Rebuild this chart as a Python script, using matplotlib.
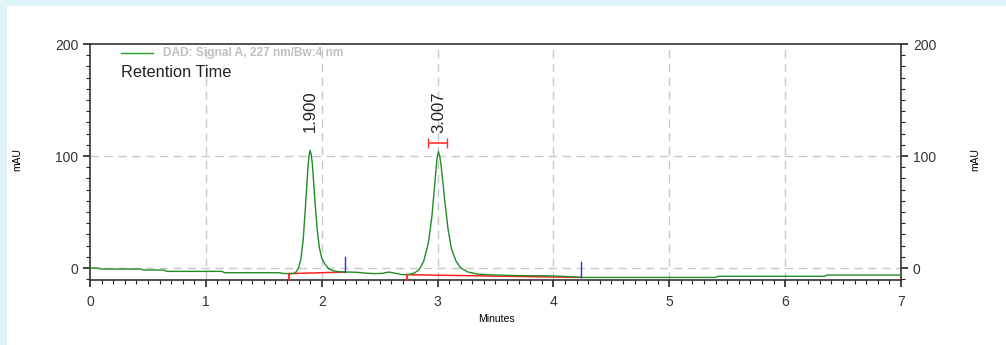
import matplotlib
matplotlib.use("Agg")
import matplotlib.pyplot as plt
from matplotlib.patches import Rectangle
from matplotlib.ticker import MultipleLocator

plt.rcParams['font.family'] = ['Liberation Sans', 'DejaVu Sans']

# chromatogram trace (minutes, mAU)
time = [0.0, 0.07, 0.09, 0.44, 0.46, 0.64, 0.66, 1.14, 1.16, 1.64, 1.66, 1.72,
        1.76, 1.78, 1.80, 1.82, 1.84, 1.86, 1.88, 1.89, 1.90, 1.91, 1.92, 1.94,
        1.96, 1.98, 2.00, 2.03, 2.06, 2.10, 2.15, 2.22, 2.30, 2.38, 2.45, 2.52,
        2.58, 2.64, 2.70, 2.76, 2.80, 2.84, 2.88, 2.92, 2.95, 2.98, 2.995, 3.007,
        3.02, 3.03, 3.06, 3.09, 3.12, 3.16, 3.20, 3.26, 3.35, 3.50, 3.70, 3.95,
        4.05, 4.25, 5.40, 5.42, 6.34, 6.36, 7.0]
signal = [0.0, 0.0, -0.9, -0.9, -1.8, -1.8, -3.0, -3.0, -4.2, -4.2, -4.8, -5.0,
          -4.8, -3.5, 0.0, 8.0, 25.0, 55.0, 88.0, 100.0, 105.0, 101.0, 92.0, 62.0,
          35.0, 18.0, 9.0, 3.0, -0.5, -2.5, -3.3, -3.6, -3.8, -4.6, -5.0, -4.8,
          -3.6, -4.8, -6.0, -5.6, -4.5, -1.5, 6.0, 22.0, 45.0, 80.0, 98.0, 104.0,
          99.0, 92.0, 62.0, 35.0, 17.0, 6.0, 0.0, -3.5, -5.5, -6.3, -6.8, -7.0,
          -7.3, -8.4, -8.4, -7.4, -7.4, -6.3, -6.3]

peak_rt = [1.900, 3.007]
peak_labels = ['1.900', '3.007']
label_y = [121, 120.5]

# integration baselines (start, end) and their mAU levels
base_t = [[1.72, 2.20], [2.74, 4.24]]
base_y = [[-5.0, -3.6], [-6.0, -8.4]]
end_marks = [2.20, 4.24]
end_tops = [10, 5.3]

fig = plt.figure(figsize=(10.06, 3.45), dpi=100, facecolor='#dff3fb')
fig.patches.append(Rectangle((7 / 1006, 0), 1, 1 - 6 / 345, transform=fig.transFigure,
                             facecolor='white', edgecolor='none', zorder=-5))

ax = fig.add_axes([90 / 1006, 1 - 280 / 345, 811 / 1006, 236 / 345])
ax.set_zorder(2)
ax.set_xlim(0, 7)
ax.set_ylim(-10.7, 200)

for x in range(1, 7):
    ax.axvline(x, color='#c8c8c8', lw=1, ls=(0, (6, 4)), zorder=1)
for y in [0, 100]:
    ax.axhline(y, color='#c8c8c8', lw=1, ls=(0, (6, 4)), zorder=1)

ax.plot(time, signal, color='#228b22', lw=1, zorder=3)

for bt, by in zip(base_t, base_y):
    ax.plot(bt, by, color='#ff2020', lw=1.1, zorder=2)
    ax.plot([bt[0], bt[0]], [by[0], -10.7], color='#ff2020', lw=1.3, zorder=4, clip_on=False)
for xm, top, by in zip(end_marks, end_tops, base_y):
    ax.plot([xm, xm], [by[1], top], color='#2030ff', lw=1, zorder=4)

# red marker over second peak
ax.errorbar([3.0], [112], xerr=[[0.08], [0.08]], fmt='none', ecolor='#ff3030',
            elinewidth=1.2, capsize=3.5)

for rt, lab, ly in zip(peak_rt, peak_labels, label_y):
    ax.text(rt, ly, lab, rotation=90, ha='center', va='bottom', fontsize=12, color='#222222')

ax.plot([0.038, 0.078], [0.962, 0.962], color='#22a022', lw=1, transform=ax.transAxes)
ax.text(0.09, 0.962, 'DAD: Signal A, 227 nm/Bw:4 nm', transform=ax.transAxes,
        fontsize=8.6, fontweight='bold', color='#c0c0c0', va='center')
ax.text(0.038, 0.878, 'Retention Time', transform=ax.transAxes,
        fontsize=11.8, color='#222222', va='center')

ax.set_yticks([0, 100, 200])
ax.yaxis.set_minor_locator(MultipleLocator(10))
ax.xaxis.set_major_locator(MultipleLocator(1))
ax.xaxis.set_minor_locator(MultipleLocator(0.1))
ax.tick_params(which='both', direction='out', colors='#222222', labelcolor='#333333',
               labelsize=10, right=True, labelright=True)
ax.tick_params(which='major', length=5, width=1.2)
ax.tick_params(which='minor', length=3, width=0.8)
ax.tick_params(axis='x', pad=6)
for s in ax.spines.values():
    s.set_color('#333333')
    s.set_linewidth(1.2)

fig.text(17 / 1006, 1 - 160 / 345, 'mAU', rotation=90, ha='center', va='center', fontsize=7.5)
fig.text(975 / 1006, 1 - 160 / 345, 'mAU', rotation=90, ha='center', va='center', fontsize=7.5)
fig.text(496 / 1006, 1 - 319 / 345, 'Minutes', ha='center', va='center', fontsize=7.5)

fig.savefig('out.png', dpi=100, facecolor=fig.get_facecolor())
